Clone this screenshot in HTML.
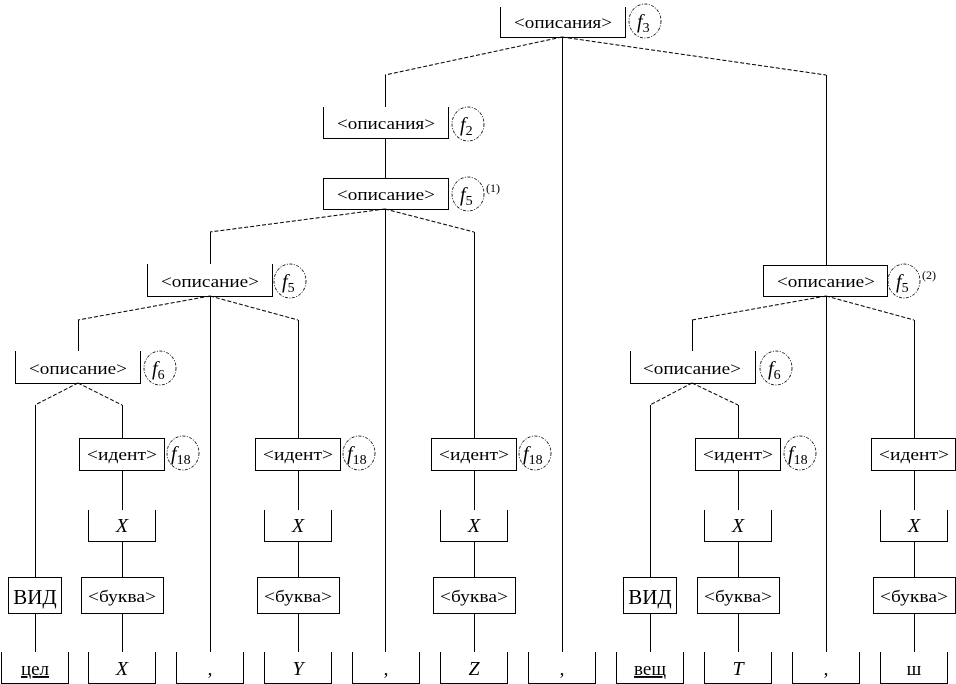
<!DOCTYPE html>
<html><head><meta charset="utf-8"><style>
html,body{margin:0;padding:0;background:#fff;}
svg{display:block;}
text{font-family:"Liberation Serif","DejaVu Serif",serif;font-size:17px;fill:#000;}
text.big{font-size:20px;font-style:italic;}
text.leaf{font-size:19px;}
text.leafi{font-size:19px;font-style:italic;}
text.vid{font-size:21px;}
text.f{font-size:20px;font-style:italic;}
tspan.sub{font-size:14px;font-style:normal;}
text.sup{font-size:12px;}
</style></head><body>
<svg width="956" height="684" viewBox="0 0 956 684" xmlns="http://www.w3.org/2000/svg">
<g fill="none" stroke="#000" stroke-width="1">
<path d="M500.5 7V37.5H625.5V7"/>
<path d="M323.5 107V138.5H448.5V107"/>
<path d="M147.5 264V296.5H272.5V264"/>
<path d="M15.5 351V383.5H140.5V351"/>
<path d="M630.5 351V383.5H755.5V351"/>
<rect x="323.5" y="178.5" width="125" height="31"/>
<rect x="763.5" y="265.5" width="124" height="31"/>
<rect x="79.5" y="438.5" width="85" height="32"/>
<rect x="255.5" y="438.5" width="85" height="32"/>
<rect x="431.5" y="438.5" width="85" height="32"/>
<rect x="695.5" y="438.5" width="85" height="32"/>
<rect x="871.5" y="438.5" width="84" height="32"/>
<path d="M88.5 510V541.5H155.5V510"/>
<path d="M264.5 510V541.5H331.5V510"/>
<path d="M440.5 510V541.5H507.5V510"/>
<path d="M704.5 510V541.5H771.5V510"/>
<path d="M880.5 510V541.5H947.5V510"/>
<rect x="81.5" y="577.5" width="82" height="36"/>
<rect x="257.5" y="577.5" width="82" height="36"/>
<rect x="433.5" y="577.5" width="82" height="36"/>
<rect x="697.5" y="577.5" width="82" height="36"/>
<rect x="873.5" y="577.5" width="82" height="36"/>
<rect x="8.5" y="577.5" width="53" height="36"/>
<rect x="623.5" y="577.5" width="53" height="36"/>
<path d="M1.5 652V683.5H68.5V652"/>
<path d="M88.5 652V683.5H155.5V652"/>
<path d="M176.5 652V683.5H243.5V652"/>
<path d="M264.5 652V683.5H331.5V652"/>
<path d="M352.5 652V683.5H419.5V652"/>
<path d="M440.5 652V683.5H507.5V652"/>
<path d="M528.5 652V683.5H595.5V652"/>
<path d="M616.5 652V683.5H683.5V652"/>
<path d="M704.5 652V683.5H771.5V652"/>
<path d="M792.5 652V683.5H859.5V652"/>
<path d="M880.5 652V683.5H947.5V652"/>
<path d="M562.5 38V652 M385.5 75V107 M385.5 138V178 M385.5 209V652 M826.5 75V265 M826.5 296V652
M210.5 232V264 M210.5 296V652 M78.5 320V351 M298.5 320V438 M474.5 232V438 M692.5 320V351 M914.5 320V438
M35.5 405V577 M35.5 613V652 M650.5 405V577 M650.5 613V652
M122.5 405V438 M738.5 405V438
M122.5 470V510 M122.5 541V577 M122.5 613V652
M298.5 470V510 M298.5 541V577 M298.5 613V652
M474.5 470V510 M474.5 541V577 M474.5 613V652
M738.5 470V510 M738.5 541V577 M738.5 613V652
M914.5 470V510 M914.5 541V577 M914.5 613V652"/>
</g>
<g fill="none" stroke="#000" stroke-width="1" stroke-dasharray="4,2">
<path d="M562 37L385 75 M562 37L826 75"/>
<path d="M385 209L210 232 M385 209L474 232"/>
<path d="M210 296L78 320 M210 296L298 320"/>
<path d="M826 296L692 320 M826 296L914 320"/>
<path d="M78 383L35 405 M78 383L122 405"/>
<path d="M692 383L650 405 M692 383L738 405"/>
</g>
<g fill="none" stroke="#000" stroke-width="0.8" stroke-dasharray="3,1.5,1,1.5">
<ellipse cx="645" cy="21" rx="16" ry="17"/>
<ellipse cx="468" cy="124" rx="16" ry="17"/>
<ellipse cx="468" cy="194" rx="16" ry="17"/>
<ellipse cx="290" cy="281" rx="16" ry="17"/>
<ellipse cx="160" cy="368" rx="16" ry="17"/>
<ellipse cx="183" cy="453" rx="16" ry="17"/>
<ellipse cx="359" cy="453" rx="16" ry="17"/>
<ellipse cx="535" cy="453" rx="16" ry="17"/>
<ellipse cx="776" cy="368" rx="16" ry="17"/>
<ellipse cx="800" cy="453" rx="16" ry="17"/>
<ellipse cx="904" cy="281" rx="16" ry="17"/>
</g>
<g text-anchor="middle">
<text x="563" y="28" textLength="98" lengthAdjust="spacingAndGlyphs">&lt;описания&gt;</text>
<text x="386" y="129" textLength="98" lengthAdjust="spacingAndGlyphs">&lt;описания&gt;</text>
<text x="386" y="200" textLength="98" lengthAdjust="spacingAndGlyphs">&lt;описание&gt;</text>
<text x="210" y="287" textLength="98" lengthAdjust="spacingAndGlyphs">&lt;описание&gt;</text>
<text x="826" y="287" textLength="98" lengthAdjust="spacingAndGlyphs">&lt;описание&gt;</text>
<text x="78" y="374" textLength="98" lengthAdjust="spacingAndGlyphs">&lt;описание&gt;</text>
<text x="692" y="374" textLength="98" lengthAdjust="spacingAndGlyphs">&lt;описание&gt;</text>
<text x="122" y="460" textLength="70" lengthAdjust="spacingAndGlyphs">&lt;идент&gt;</text>
<text x="298" y="460" textLength="70" lengthAdjust="spacingAndGlyphs">&lt;идент&gt;</text>
<text x="474" y="460" textLength="70" lengthAdjust="spacingAndGlyphs">&lt;идент&gt;</text>
<text x="738" y="460" textLength="70" lengthAdjust="spacingAndGlyphs">&lt;идент&gt;</text>
<text x="914" y="460" textLength="70" lengthAdjust="spacingAndGlyphs">&lt;идент&gt;</text>
<text class="big" x="122" y="532">X</text>
<text class="big" x="298" y="532">X</text>
<text class="big" x="474" y="532">X</text>
<text class="big" x="738" y="532">X</text>
<text class="big" x="914" y="532">X</text>
<text x="122" y="602" textLength="68" lengthAdjust="spacingAndGlyphs">&lt;буква&gt;</text>
<text x="298" y="602" textLength="68" lengthAdjust="spacingAndGlyphs">&lt;буква&gt;</text>
<text x="474" y="602" textLength="68" lengthAdjust="spacingAndGlyphs">&lt;буква&gt;</text>
<text x="738" y="602" textLength="68" lengthAdjust="spacingAndGlyphs">&lt;буква&gt;</text>
<text x="914" y="602" textLength="68" lengthAdjust="spacingAndGlyphs">&lt;буква&gt;</text>
<text class="vid" x="35" y="604">ВИД</text>
<text class="vid" x="650" y="604">ВИД</text>
<text class="leaf" x="35" y="675" text-decoration="underline">цел</text>
<text class="big" x="122" y="675">X</text>
<text class="leaf" x="210" y="675">,</text>
<text class="big" x="298" y="675">Y</text>
<text class="leaf" x="386" y="675">,</text>
<text class="big" x="474" y="675">Z</text>
<text class="leaf" x="562" y="675">,</text>
<text class="leaf" x="650" y="675" text-decoration="underline">вещ</text>
<text class="big" x="738" y="675">T</text>
<text class="leaf" x="826" y="675">,</text>
<text class="leaf" x="914" y="675">ш</text>
</g>
<text class="f" x="637" y="28">f<tspan class="sub" dy="4">3</tspan></text>
<text class="f" x="460" y="131">f<tspan class="sub" dy="4">2</tspan></text>
<text class="f" x="460" y="201">f<tspan class="sub" dy="4">5</tspan></text>
<text class="sup" x="486" y="192">(1)</text>
<text class="f" x="282" y="288">f<tspan class="sub" dy="4">5</tspan></text>
<text class="f" x="896" y="288">f<tspan class="sub" dy="4">5</tspan></text>
<text class="sup" x="922" y="279">(2)</text>
<text class="f" x="152" y="375">f<tspan class="sub" dy="4">6</tspan></text>
<text class="f" x="768" y="375">f<tspan class="sub" dy="4">6</tspan></text>
<text class="f" x="171" y="460">f<tspan class="sub" dy="4">18</tspan></text>
<text class="f" x="347" y="460">f<tspan class="sub" dy="4">18</tspan></text>
<text class="f" x="523" y="460">f<tspan class="sub" dy="4">18</tspan></text>
<text class="f" x="788" y="460">f<tspan class="sub" dy="4">18</tspan></text>
</svg>
</body></html>
